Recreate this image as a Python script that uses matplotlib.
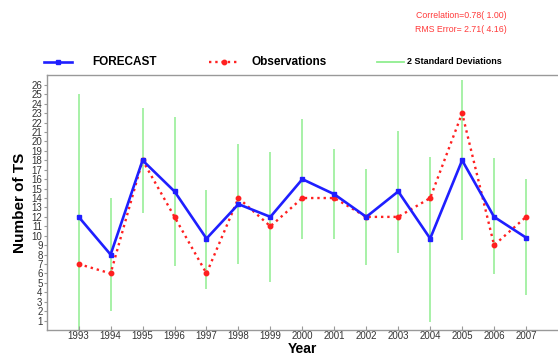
import numpy as np
import matplotlib.pyplot as plt
from matplotlib.lines import Line2D

plt.rcParams['font.family'] = ['Liberation Sans', 'DejaVu Sans']

years = np.arange(1993, 2008)
forecast = [12, 8, 18, 14.7, 9.7, 13.35, 12, 16, 14.4, 12, 14.7, 9.7, 18, 12, 9.8]
observed = [7, 6, 18, 12, 6, 14, 11, 14, 14, 12, 12, 14, 23, 9, 12]
sd_low = [-1, 2.05, 12.4, 6.75, 4.35, 7.0, 5.1, 9.65, 9.65, 6.9, 8.2, 0.8, 9.6, 5.9, 3.7]
sd_high = [25.05, 14.0, 23.6, 22.6, 14.9, 19.7, 18.9, 22.4, 19.2, 17.1, 21.1, 18.4, 26.5, 18.2, 16.0]

fig = plt.figure(figsize=(5.58, 3.56), dpi=100)
ax = fig.add_axes([0.0837, 0.073, 0.9163, 0.715])

ax.vlines(years, sd_low, sd_high, color='#90ee90', lw=1.1, zorder=1)
ax.plot(years, forecast, color='#1f1fff', lw=1.9, marker='s', ms=3.2, zorder=3)
ax.plot(years, observed, color='#ff2020', lw=1.7, ls=':', marker='o', ms=3.2, zorder=2)

ax.set_xlim(1992, 2008)
ax.set_ylim(0, 27)
ax.set_xticks(years)
ax.set_xticklabels([str(y) for y in years], fontsize=7, color='#333333')
ax.set_yticks(np.arange(1, 27))
ax.set_yticklabels([str(v) for v in range(1, 27)], fontsize=7, color='#333333')
ax.tick_params(axis='x', direction='in', length=3, color='#999999', pad=1)
ax.tick_params(axis='y', direction='out', length=2, color='#999999', pad=1)
for s in ['left', 'bottom', 'top']:
    ax.spines[s].set_color('#999999')
    ax.spines[s].set_linewidth(1)
ax.spines['right'].set_visible(False)

ax.set_xlabel('Year', fontsize=10, fontweight='bold')
ax.xaxis.set_label_coords(0.5, -0.047)
ax.set_ylabel('Number of TS', fontsize=11, fontweight='bold', labelpad=3)

# legend row above the plot
W, H = 558, 356
def fx(px):
    return px / W
def fy(py):
    return 1 - py / H

ly = 62
fig.add_artist(Line2D([fx(44), fx(72)], [fy(ly), fy(ly)], color='#1f1fff', lw=1.9,
                      transform=fig.transFigure))
fig.add_artist(Line2D([fx(58)], [fy(ly)], color='#1f1fff', marker='s', ms=3.2, transform=fig.transFigure))
fig.text(fx(92), fy(ly), 'FORECAST', fontsize=8.5, fontweight='bold', va='center')
fig.add_artist(Line2D([fx(209), fx(238)], [fy(ly), fy(ly)], color='#ff2020', lw=1.7, ls=':',
                      transform=fig.transFigure))
fig.add_artist(Line2D([fx(224)], [fy(ly)], color='#ff2020', marker='o', ms=3.2, transform=fig.transFigure))
fig.text(fx(252), fy(ly), 'Observations', fontsize=8.5, fontweight='bold', va='center')
fig.add_artist(Line2D([fx(377), fx(404)], [fy(ly), fy(ly)], color='#90ee90', lw=1.3,
                      transform=fig.transFigure))
fig.text(fx(407), fy(ly), '2 Standard Deviations', fontsize=6.5, fontweight='bold', va='center')

fig.text(fx(507), fy(16), 'Correlation=0.78( 1.00)', fontsize=6.3, color='#ff3a3a', ha='right', va='center')
fig.text(fx(507), fy(29), 'RMS Error= 2.71( 4.16)', fontsize=6.3, color='#ff3a3a', ha='right', va='center')

fig.savefig('out.png', dpi=100)
